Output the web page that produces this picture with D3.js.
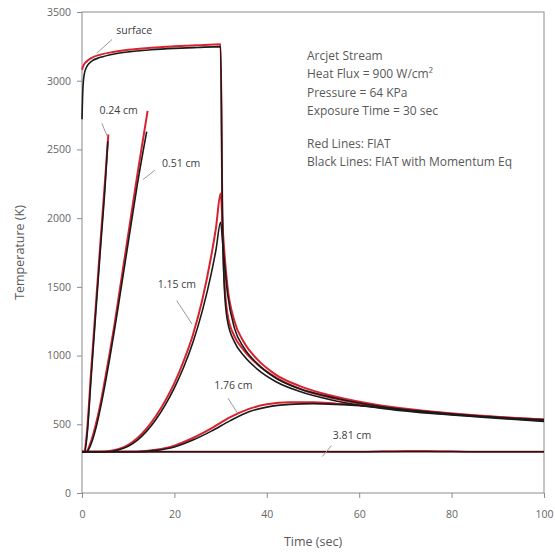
<!DOCTYPE html>
<html><head><meta charset="utf-8">
<script src="https://cdn.jsdelivr.net/npm/d3@7/dist/d3.min.js"></script>
<style>
body{margin:0;background:#fff;}
text{font-family:"Open Sans",Lato,sans-serif;fill:#595959;}
</style></head>
<body><svg id="c" width="555" height="552"></svg>
<script>
// ---- data ----
const xTicks = [0,20,40,60,80,100];
const yTicks = [0,500,1000,1500,2000,2500,3000,3500];

// surface
const surfRedT = [0,0.3,1,2,4,7,10,15,20,25,30,30.4,30.8,31.5,33,35,38,42,47,55,65,75,85,100];
const surfRedV = [3080,3110,3140,3165,3190,3210,3225,3240,3250,3258,3265,2000,1560,1300,1140,1040,935,840,760,685,625,590,562,525];
const surfBlkT = [0,0.2,0.5,1,2,4,7,10,15,20,25,30,30.4,30.8,31.5,33,35,38,42,47,55,65,75,85,100];
const surfBlkV = [2720,2950,3050,3100,3140,3170,3195,3210,3225,3235,3242,3248,2000,1500,1250,1100,1000,900,810,740,670,615,580,555,520];
// 0.24 cm
const c024RedT = [0,0.5,1,2,3,4,5,5.7];
const c024RedV = [300,300,420,900,1370,1830,2280,2610];
const c024BlkT = [0,0.6,1.1,2,3,4,5,5.6];
const c024BlkV = [300,300,420,850,1320,1780,2230,2560];
// 0.51 cm
const c051RedT = [0,1,2,3,4,5,6,7,8,10,12,14.2];
const c051RedV = [300,305,380,500,650,830,1020,1220,1440,1880,2320,2780];
const c051BlkT = [0,1,2,3,4,5,6,7,8,10,12,14];
const c051BlkV = [300,300,360,470,620,790,980,1180,1390,1820,2250,2630];
// 1.15 cm
const c115RedT = [0,4,6,8,10,12,14,16,18,20,22,24,26,28,29,30,30.5,31.5,33,35,38,42,47,55,65,75,85,100];
const c115RedV = [300,300,305,320,350,400,470,560,670,800,960,1150,1400,1730,1930,2180,1900,1500,1250,1100,970,860,780,700,635,595,565,535];
const c115BlkT = [0,4,6,8,10,12,14,16,18,20,22,24,26,28,29,30,30.5,31.5,33,35,38,42,47,55,65,75,85,100];
const c115BlkV = [300,300,302,315,340,385,450,535,640,765,915,1095,1320,1600,1770,1970,1800,1450,1200,1060,940,835,760,690,628,590,560,530];
// 1.76 cm
const c176RedT = [0,12,16,20,24,28,32,36,40,45,50,55,60,70,80,90,100];
const c176RedV = [300,302,315,345,400,470,550,610,645,660,660,650,640,605,575,552,535];
const c176BlkT = [0,12,16,20,24,28,32,36,40,45,50,55,60,70,80,90,100];
const c176BlkV = [300,300,310,335,385,450,525,590,625,645,650,645,635,602,572,550,532];
// 3.81 cm
const c381RedT = [0,60,65,70,75,80,85,100];
const c381RedV = [300,300,303,306,306,303,300,300];
const c381BlkT = [0,50,100];
const c381BlkV = [300,300,300];

const infoLines = ["Arcjet Stream","Heat Flux = 900 W/cm\u00B2","Pressure = 64 KPa","Exposure Time = 30 sec"];
const legendLines = ["Red Lines: FIAT","Black Lines: FIAT with Momentum Eq"];

// ---- chart ----
const svg = d3.select("#c");
const L=82, R=544, T=12, B=493;
const x = d3.scaleLinear().domain([0,100]).range([L,R]);
const y = d3.scaleLinear().domain([0,3500]).range([B,T]);

svg.append("rect").attr("x",L).attr("y",T).attr("width",R-L).attr("height",B-T)
  .attr("fill","none").attr("stroke","#8c8c8c").attr("stroke-width",1);

const xAxis = svg.append("g").attr("transform",`translate(0,${B})`)
  .call(d3.axisBottom(x).tickValues(xTicks).tickSize(5).tickPadding(13).tickFormat(d3.format("d")));
const yAxis = svg.append("g").attr("transform",`translate(${L},0)`)
  .call(d3.axisLeft(y).tickValues(yTicks).tickSize(5).tickPadding(6).tickFormat(d3.format("d")));
[xAxis,yAxis].forEach(g=>{
  g.select(".domain").remove();
  g.selectAll(".tick line").attr("stroke","#8c8c8c");
  g.selectAll(".tick text").attr("font-size",10.5).style("fill","#666");
});

svg.append("text").attr("x",(L+R)/2).attr("y",546).attr("text-anchor","middle")
  .attr("font-size",12.5).text("Time (sec)");
svg.append("text").attr("transform",`translate(24,${(T+B)/2}) rotate(-90)`)
  .attr("text-anchor","middle").attr("font-size",12.5).text("Temperature (K)");

const line = d3.line().x(d=>x(d[0])).y(d=>y(d[1])).curve(d3.curveMonotoneX);
const zip=(a,b)=>a.map((v,i)=>[v,b[i]]);
const reds = [[surfRedT,surfRedV],[c024RedT,c024RedV],[c051RedT,c051RedV],[c115RedT,c115RedV],[c176RedT,c176RedV],[c381RedT,c381RedV]];
const blks = [[surfBlkT,surfBlkV],[c024BlkT,c024BlkV],[c051BlkT,c051BlkV],[c115BlkT,c115BlkV],[c176BlkT,c176BlkV],[c381BlkT,c381BlkV]];
reds.forEach(s=>svg.append("path").attr("d",line(zip(s[0],s[1]))).attr("fill","none")
  .attr("stroke","#d8232f").attr("stroke-width",2));
blks.forEach(s=>svg.append("path").attr("d",line(zip(s[0],s[1]))).attr("fill","none")
  .attr("stroke","#1a1a1a").attr("stroke-width",1.6));

// labels with leader lines (anchored in data coordinates)
const labels = [
  {t:"surface", lx:7.4, lv:3340, ax:[6.5,3300], bx:[3.2,3200]},
  {t:"0.24 cm", lx:3.8, lv:2760, ax:[4.3,2690], bx:[5.4,2600]},
  {t:"0.51 cm", lx:17.3, lv:2370, ax:[15.8,2350], bx:[13.2,2280]},
  {t:"1.15 cm", lx:16.4, lv:1490, ax:[20.5,1400], bx:[23.8,1230]},
  {t:"1.76 cm", lx:28.6, lv:760, ax:[31.6,690], bx:[33.7,580]},
  {t:"3.81 cm", lx:54.3, lv:395, ax:[54,345], bx:[52,265]}
];
labels.forEach(d=>{
  svg.append("line").attr("x1",x(d.ax[0])).attr("y1",y(d.ax[1])).attr("x2",x(d.bx[0])).attr("y2",y(d.bx[1]))
    .attr("stroke","#999").attr("stroke-width",1);
  svg.append("text").attr("x",x(d.lx)).attr("y",y(d.lv)).attr("font-size",10.5).style("fill","#404040").text(d.t);
});

const info = svg.append("g").attr("transform","translate(307,0)");
infoLines.forEach((s,i)=>info.append("text").attr("x",0).attr("y",60+i*18.3).attr("font-size",12).text(s));
legendLines.forEach((s,i)=>info.append("text").attr("x",0).attr("y",148+i*18.3).attr("font-size",12).text(s));
</script></body></html>
